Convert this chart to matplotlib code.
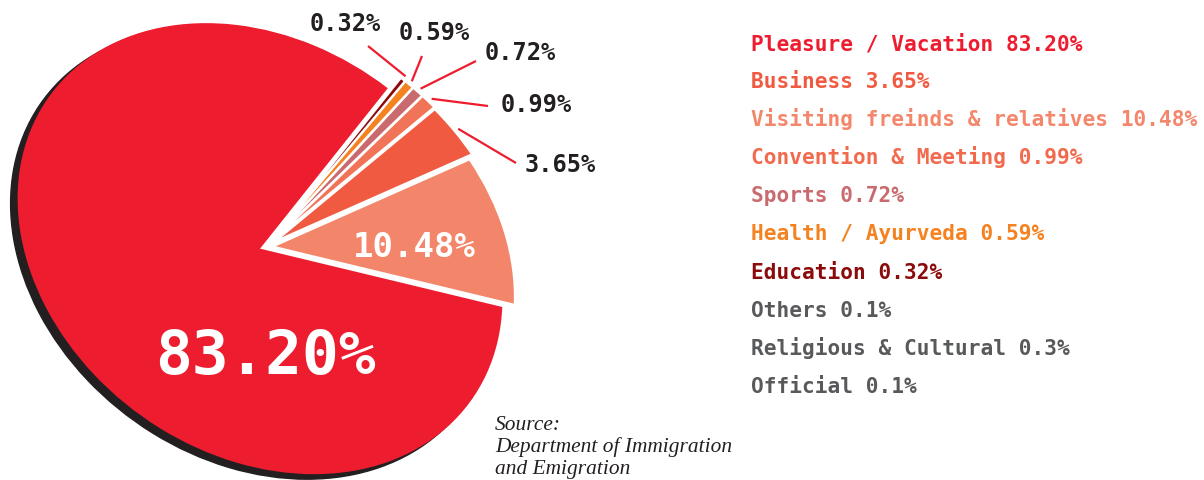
import numpy as np
import matplotlib.pyplot as plt
from matplotlib.patches import Wedge
from matplotlib.transforms import Affine2D

# slices drawn in the pie (percent), in drawing order
pie_values = [83.20, 10.48, 3.65, 0.99, 0.72, 0.59, 0.32]
pie_colors = ['#ed1c2e', '#f3866a', '#ef5a40', '#f27458', '#c96a6e', '#f58220', '#8b0a0a']
explode = [0.028, 0.028, 0.05, 0.055, 0.055, 0.055, 0.055]

# legend on the right
legend_names = ['Pleasure / Vacation', 'Business', 'Visiting freinds & relatives',
                'Convention & Meeting', 'Sports', 'Health / Ayurveda', 'Education',
                'Others', 'Religious & Cultural', 'Official']
legend_values = ['83.20%', '3.65%', '10.48%', '0.99%', '0.72%', '0.59%', '0.32%',
                 '0.1%', '0.3%', '0.1%']
legend_colors = ['#ed1c2e', '#f05a40', '#f4876b', '#f26a4e', '#c96a6e', '#f58220',
                 '#8b0a0a', '#58595b', '#58595b', '#58595b']

H = 480
dark = '#231f20'
mono = 'DejaVu Sans Mono'

fig = plt.figure(figsize=(12.04, 4.8), dpi=100)
ax = fig.add_axes([0, 0, 1, 1])

wedges, _ = ax.pie(pie_values, colors=pie_colors, startangle=268, explode=explode,
                   wedgeprops=dict(edgecolor='white', linewidth=1.5))
wedges[0].set_linewidth(0)

# squash + tilt the pie into an ellipse, pixel units
ell = Affine2D().scale(260, 205).rotate_deg(144).translate(266, H - 247)
for w in wedges:
    w.set_transform(ell + ax.transData)

# drop shadow under the big slice
w0 = wedges[0]
shadow = Wedge(w0.center, w0.r, w0.theta1, w0.theta2, color=dark, zorder=0,
               transform=ell + Affine2D().translate(-7, -5) + ax.transData)
ax.add_patch(shadow)

ax.set_xlim(0, 1204)
ax.set_ylim(0, H)
ax.set_aspect('auto')
ax.axis('off')

# callouts for the thin slices (label x, baseline y, align, line end) in pixels
callouts = {2: (525, 172, 'left', (516, 163)),
            3: (501, 112, 'left', (488, 106)),
            4: (485, 60, 'left', (476, 61)),
            5: (434, 40, 'center', (422, 56)),
            6: (345, 31, 'center', (368, 46))}
for i, (tx, ty, ha, end) in callouts.items():
    w = wedges[i]
    mid = np.deg2rad((w.theta1 + w.theta2) / 2)
    cx, cy = w.center
    p = ell.transform((cx + 1.02 * np.cos(mid), cy + 1.02 * np.sin(mid)))
    ax.plot([p[0], end[0]], [p[1], H - end[1]], color='#ed1c2e', lw=1.6,
            solid_capstyle='butt')
    ax.text(tx, H - ty, f'{pie_values[i]:.2f}%', ha=ha, va='baseline',
            family=mono, weight='bold', size=17, color=dark)

ax.text(265, H - 374, f'{pie_values[0]:.2f}%', ha='center', va='baseline',
        family=mono, weight='bold', size=44, color='white')
ax.text(414, H - 257, f'{pie_values[1]:.2f}%', ha='center', va='baseline',
        family=mono, weight='bold', size=24.5, color='white')

for i, (name, val, col) in enumerate(zip(legend_names, legend_values, legend_colors)):
    ax.text(751, H - (50 + 38.1 * i), f'{name} {val}', ha='left', va='baseline',
            family=mono, weight='bold', size=15.2, color=col)

for j, line in enumerate(['Source:', 'Department of Immigration', 'and Emigration']):
    ax.text(495, H - (430 + 22 * j), line, ha='left', va='baseline',
            family='Liberation Serif', style='italic', size=15.4, color=dark)

fig.savefig('out.png', dpi=100)
